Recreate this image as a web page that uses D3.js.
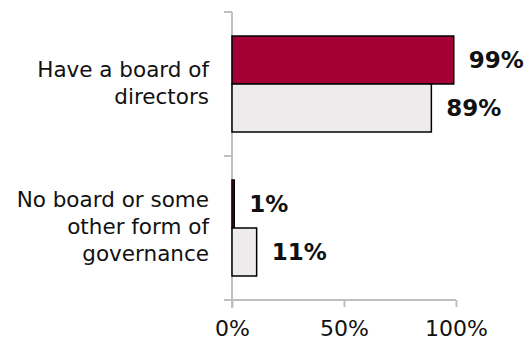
<!DOCTYPE html>
<html>
<head>
<meta charset="utf-8">
<script src="https://cdn.jsdelivr.net/npm/d3@7"></script>
<style>
  body { margin: 0; background: #fff; }
  svg text { font-family: "DejaVu Sans", sans-serif; }
</style>
</head>
<body>
<svg id="chart" width="529" height="341"></svg>
<script>
// Categories, with line breaks for the wrapped labels
const categories = ["Have a board of directors", "No board or some other form of governance"];
const categoryLines = [["Have a board of", "directors"], ["No board or some", "other form of", "governance"]];
// Two series per category (percent)
const seriesA = [99, 1];
const seriesB = [89, 11];
const xTicks = [0, 50, 100];

const colors = ["#A50034", "#EDEBEB"];
const axisColor = "#BFBFBF";

const svg = d3.select("#chart");
const plotLeft = 232, plotTop = 12, plotBottom = 300;

const x = d3.scaleLinear().domain([0, 100]).range([plotLeft, plotLeft + 224]);
const y = d3.scaleBand().domain(categories).range([plotTop, plotBottom]);
const barH = y.bandwidth() / 3;

// Bottom axis
const xAxis = d3.axisBottom(x).tickValues(xTicks).tickFormat(d => d + "%").tickSize(7).tickSizeOuter(0);
const gx = svg.append("g").attr("transform", `translate(0,${plotBottom})`).call(xAxis);
gx.select(".domain").attr("stroke", axisColor).attr("stroke-width", 2)
  .attr("d", `M${plotLeft - 8},0H${x(100)}`);
gx.selectAll(".tick line").attr("stroke", axisColor).attr("stroke-width", 2);
gx.selectAll(".tick text").attr("fill", "#111").attr("font-size", 22).attr("dy", 0).attr("y", 36)
  .style("font-family", "'DejaVu Sans', sans-serif");

// Left axis with ticks at category boundaries
const gy = svg.append("g");
gy.append("line").attr("x1", plotLeft).attr("x2", plotLeft).attr("y1", plotTop).attr("y2", plotBottom + 8)
  .attr("stroke", axisColor).attr("stroke-width", 2);
gy.selectAll("line.tk").data([plotTop, plotTop + y.bandwidth()]).join("line").attr("class", "tk")
  .attr("x1", plotLeft - 8).attr("x2", plotLeft).attr("y1", d => d).attr("y2", d => d)
  .attr("stroke", axisColor).attr("stroke-width", 2);

// Bars and value labels
categories.forEach((c, i) => {
  [seriesA[i], seriesB[i]].forEach((v, j) => {
    const top = y(c) + barH / 2 + j * barH;
    svg.append("rect")
      .attr("x", x(0)).attr("y", top)
      .attr("width", x(v) - x(0)).attr("height", barH)
      .attr("fill", colors[j]).attr("stroke", "#000").attr("stroke-width", 1.5);
    svg.append("text")
      .attr("x", x(v) + 15).attr("y", top + barH / 2 + 7.5)
      .attr("font-size", 23).attr("font-weight", 700).attr("fill", "#111")
      .text(v + "%");
  });
});

// Category labels, right-aligned beside the axis
categories.forEach((c, i) => {
  const lines = categoryLines[i];
  const lh = 27;
  const cy = y(c) + y.bandwidth() / 2;
  const t = svg.append("text").attr("text-anchor", "end").attr("font-size", 21.5).attr("fill", "#111");
  lines.forEach((ln, k) => {
    t.append("tspan").attr("x", 209).attr("y", cy + (k - (lines.length - 1) / 2) * lh + 6).text(ln);
  });
});
</script>
</body>
</html>
